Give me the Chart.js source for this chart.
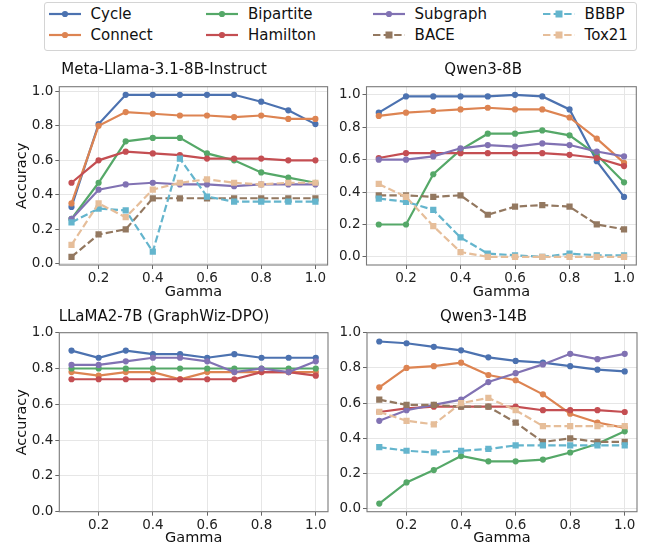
<!DOCTYPE html>
<html>
<head>
<meta charset="utf-8">
<script src="https://cdn.jsdelivr.net/npm/chart.js@4.4.1/dist/chart.umd.min.js"></script>
<style>
  body { margin: 0; background: #fff; width: 645px; height: 548px; overflow: hidden; position: relative; font-family: 'DejaVu Sans', sans-serif; }
  .plot { position: absolute; }
  #legend { position: absolute; left: 44px; top: 2px; width: 591px; height: 47px; border: 1px solid #d4d4d4; border-radius: 3px; box-sizing: content-box; }
  .item { position: absolute; height: 18px; font-size: 15px; line-height: 18px; color: #111; white-space: nowrap; }
  .item svg { position: absolute; left: 0; top: 0; }
  .item span { position: absolute; top: 0; }
</style>
</head>
<body>
<div id="legend"></div>
<div class="plot" style="left:0;top:55px;width:332px;height:248px"><canvas id="c1"></canvas></div>
<div class="plot" style="left:330px;top:55px;width:315px;height:248px"><canvas id="c2"></canvas></div>
<div class="plot" style="left:0;top:300px;width:332px;height:248px"><canvas id="c3"></canvas></div>
<div class="plot" style="left:330px;top:300px;width:315px;height:248px"><canvas id="c4"></canvas></div>
<script>
const gamma = [0.1, 0.2, 0.3, 0.4, 0.5, 0.6, 0.7, 0.8, 0.9, 1.0];
const xTicks = [0.2, 0.4, 0.6, 0.8, 1.0];
const yTicks = [0.0, 0.2, 0.4, 0.6, 0.8, 1.0];

const seriesNames = ['Cycle', 'Connect', 'Bipartite', 'Hamilton', 'Subgraph', 'BACE', 'BBBP', 'Tox21'];
const seriesColors = ['#4C72B0', '#DD8452', '#55A868', '#C44E52', '#8172B3', '#937860', '#64B5CD', '#E6BE9A'];
const dashedSeries = ['BACE', 'BBBP', 'Tox21'];

// Meta-Llama-3.1-8B-Instruct
const llamaCycle     = [0.33, 0.81, 0.98, 0.98, 0.98, 0.98, 0.98, 0.94, 0.89, 0.81];
const llamaConnect   = [0.35, 0.80, 0.88, 0.87, 0.86, 0.86, 0.85, 0.86, 0.84, 0.84];
const llamaBipartite = [0.26, 0.47, 0.71, 0.73, 0.73, 0.64, 0.60, 0.53, 0.50, 0.47];
const llamaHamilton  = [0.47, 0.60, 0.65, 0.64, 0.63, 0.61, 0.61, 0.61, 0.60, 0.60];
const llamaSubgraph  = [0.26, 0.43, 0.46, 0.47, 0.46, 0.46, 0.45, 0.46, 0.46, 0.46];
const llamaBACE      = [0.04, 0.17, 0.20, 0.38, 0.38, 0.38, 0.38, 0.38, 0.38, 0.38];
const llamaBBBP      = [0.24, 0.32, 0.31, 0.07, 0.61, 0.39, 0.36, 0.36, 0.36, 0.36];
const llamaTox21     = [0.11, 0.35, 0.27, 0.43, 0.47, 0.49, 0.47, 0.46, 0.47, 0.47];

// Qwen3-8B
const q8Cycle     = [0.89, 0.99, 0.99, 0.99, 0.99, 1.00, 0.99, 0.91, 0.59, 0.37];
const q8Connect   = [0.87, 0.89, 0.90, 0.91, 0.92, 0.91, 0.91, 0.86, 0.73, 0.58];
const q8Bipartite = [0.20, 0.20, 0.51, 0.66, 0.76, 0.76, 0.78, 0.75, 0.63, 0.46];
const q8Hamilton  = [0.61, 0.64, 0.64, 0.64, 0.64, 0.64, 0.64, 0.63, 0.61, 0.56];
const q8Subgraph  = [0.60, 0.60, 0.62, 0.67, 0.69, 0.68, 0.70, 0.69, 0.65, 0.62];
const q8BACE      = [0.38, 0.38, 0.37, 0.38, 0.26, 0.31, 0.32, 0.31, 0.20, 0.17];
const q8BBBP      = [0.36, 0.34, 0.29, 0.12, 0.02, 0.01, 0.00, 0.02, 0.01, 0.01];
const q8Tox21     = [0.45, 0.37, 0.19, 0.03, 0.00, 0.00, 0.00, 0.00, 0.00, 0.00];

// LLaMA2-7B (GraphWiz-DPO)
const gwCycle     = [0.90, 0.86, 0.90, 0.88, 0.88, 0.86, 0.88, 0.86, 0.86, 0.86];
const gwConnect   = [0.78, 0.76, 0.78, 0.78, 0.74, 0.78, 0.78, 0.78, 0.78, 0.78];
const gwBipartite = [0.80, 0.80, 0.80, 0.80, 0.80, 0.80, 0.80, 0.80, 0.80, 0.80];
const gwHamilton  = [0.74, 0.74, 0.74, 0.74, 0.74, 0.74, 0.74, 0.78, 0.78, 0.76];
const gwSubgraph  = [0.82, 0.82, 0.84, 0.86, 0.86, 0.84, 0.78, 0.80, 0.78, 0.84];

// Qwen3-14B
const q14Cycle     = [0.95, 0.94, 0.92, 0.90, 0.86, 0.84, 0.83, 0.81, 0.79, 0.78];
const q14Connect   = [0.69, 0.80, 0.81, 0.83, 0.76, 0.73, 0.65, 0.54, 0.49, 0.46];
const q14Bipartite = [0.03, 0.15, 0.22, 0.30, 0.27, 0.27, 0.28, 0.32, 0.37, 0.44];
const q14Hamilton  = [0.55, 0.57, 0.58, 0.58, 0.58, 0.58, 0.56, 0.56, 0.56, 0.55];
const q14Subgraph  = [0.50, 0.56, 0.59, 0.62, 0.72, 0.77, 0.82, 0.88, 0.85, 0.88];
const q14BACE      = [0.62, 0.59, 0.59, 0.58, 0.58, 0.49, 0.38, 0.40, 0.38, 0.38];
const q14BBBP      = [0.35, 0.33, 0.32, 0.33, 0.34, 0.36, 0.36, 0.36, 0.36, 0.36];
const q14Tox21     = [0.55, 0.50, 0.48, 0.60, 0.63, 0.56, 0.47, 0.47, 0.47, 0.47];

Chart.defaults.font.family = "'DejaVu Sans', sans-serif";
Chart.defaults.color = '#222';

// matplotlib-style box around the axes
const framePlugin = {
  id: 'frame',
  afterDatasetsDraw(chart) {
    const { ctx, chartArea: a } = chart;
    ctx.save();
    ctx.strokeStyle = '#7a7a7a';
    ctx.lineWidth = 1.1;
    ctx.strokeRect(a.left, a.top, a.right - a.left, a.bottom - a.top);
    ctx.restore();
  }
};

function makeDataset(name, values) {
  const i = seriesNames.indexOf(name);
  const dashed = dashedSeries.includes(name);
  return {
    label: name,
    data: gamma.map((g, k) => ({ x: g, y: values[k] })),
    borderColor: seriesColors[i],
    backgroundColor: seriesColors[i],
    borderWidth: 2.2,
    borderDash: dashed ? [7.4, 3.2] : [],
    pointStyle: dashed ? 'rect' : 'circle',
    pointRadius: dashed ? 4.4 : 3.1,
    pointBorderWidth: 0,
    pointBackgroundColor: seriesColors[i],
    tension: 0,
    order: -i
  };
}

function makeChart(id, title, series, o) {
  const ctx = document.getElementById(id).getContext('2d');
  return new Chart(ctx, {
    type: 'line',
    data: { datasets: series.map(s => makeDataset(s[0], s[1])) },
    options: {
      responsive: true,
      maintainAspectRatio: false,
      animation: false,
      devicePixelRatio: 1,
      layout: { padding: { left: 0, right: o.padRight, top: 0, bottom: 0 } },
      plugins: {
        legend: { display: false },
        tooltip: { enabled: false },
        title: {
          display: true,
          text: title,
          color: '#111',
          font: { size: 15, weight: 'normal' },
          padding: { top: o.titleTop, bottom: o.titleBottom }
        }
      },
      scales: {
        x: {
          type: 'linear',
          min: 0.055,
          max: 1.045,
          afterBuildTicks: s => { s.ticks = xTicks.map(v => ({ value: v })); },
          afterFit: s => { s.height = o.xHeight; },
          ticks: { callback: v => v.toFixed(1), font: { size: 13.5 }, padding: 1.5, maxRotation: 0, autoSkip: false, color: '#222' },
          grid: { color: '#e6e6e6', lineWidth: 1, tickColor: '#666', tickLength: 4 },
          border: { display: false },
          title: { display: true, text: 'Gamma', color: '#111', font: { size: 14.5 }, padding: { top: 0, bottom: o.xTitleBottom } }
        },
        y: {
          min: o.ymin,
          max: o.ymax,
          afterBuildTicks: s => { s.ticks = yTicks.map(v => ({ value: v })); },
          afterFit: s => { s.width = o.yWidth; },
          ticks: { callback: v => v.toFixed(1), font: { size: 13.5 }, padding: 2, color: '#222' },
          grid: { color: '#e6e6e6', lineWidth: 1, tickColor: '#666', tickLength: 4 },
          border: { display: false },
          title: { display: o.yTitle, text: 'Accuracy', color: '#111', font: { size: 14.5 }, padding: { top: 13.5, bottom: 0 } }
        }
      }
    },
    plugins: [framePlugin]
  });
}

makeChart('c1', 'Meta-Llama-3.1-8B-Instruct', [
  ['Cycle', llamaCycle], ['Connect', llamaConnect], ['Bipartite', llamaBipartite],
  ['Hamilton', llamaHamilton], ['Subgraph', llamaSubgraph], ['BACE', llamaBACE],
  ['BBBP', llamaBBBP], ['Tox21', llamaTox21]
], { ymin: -0.007, ymax: 1.027, yTitle: true, yWidth: 59.3, padRight: 4, titleTop: 6, titleBottom: 7.7, xHeight: 38, xTitleBottom: 2.3 });

makeChart('c2', 'Qwen3-8B', [
  ['Cycle', q8Cycle], ['Connect', q8Connect], ['Bipartite', q8Bipartite],
  ['Hamilton', q8Hamilton], ['Subgraph', q8Subgraph], ['BACE', q8BACE],
  ['BBBP', q8BBBP], ['Tox21', q8Tox21]
], { ymin: -0.05, ymax: 1.05, yTitle: false, yWidth: 36.5, padRight: 8.7, titleTop: 6, titleBottom: 7.7, xHeight: 38, xTitleBottom: 2.3 });

makeChart('c3', 'LLaMA2-7B (GraphWiz-DPO)', [
  ['Cycle', gwCycle], ['Connect', gwConnect], ['Bipartite', gwBipartite],
  ['Hamilton', gwHamilton], ['Subgraph', gwSubgraph]
], { ymin: 0, ymax: 1.0, yTitle: true, yWidth: 59.3, padRight: 4, titleTop: 8.3, titleBottom: 6.4, xHeight: 36.3, xTitleBottom: 1.3 });

makeChart('c4', 'Qwen3-14B', [
  ['Cycle', q14Cycle], ['Connect', q14Connect], ['Bipartite', q14Bipartite],
  ['Hamilton', q14Hamilton], ['Subgraph', q14Subgraph], ['BACE', q14BACE],
  ['BBBP', q14BBBP], ['Tox21', q14Tox21]
], { ymin: -0.016, ymax: 1.0, yTitle: false, yWidth: 37, padRight: 8, titleTop: 8.3, titleBottom: 6.4, xHeight: 36.3, xTitleBottom: 1.3 });

// shared legend, 4 columns x 2 rows (column-major like matplotlib)
const legend = document.getElementById('legend');
const colX = [48.6, 206, 372.6, 542.6];
const rowY = [13.7, 35.3];
seriesNames.forEach((name, i) => {
  const col = Math.floor(i / 2), row = i % 2;
  const color = seriesColors[i];
  const dashed = dashedSeries.includes(name);
  const item = document.createElement('div');
  item.className = 'item';
  item.style.left = (colX[col] - 45) + 'px';
  item.style.top = (rowY[row] - 3 - 9) + 'px';
  const marker = dashed
    ? `<rect x="12.5" y="5.5" width="7" height="7" fill="${color}"/>`
    : `<circle cx="16" cy="9" r="3.1" fill="${color}"/>`;
  item.innerHTML = `
    <svg width="34" height="18"><line x1="0" y1="9" x2="32" y2="9" stroke="${color}" stroke-width="2.2"
      ${dashed ? 'stroke-dasharray="7.4 3.2"' : ''}/>${marker}</svg>
    <span style="left:42px">${name}</span>`;
  legend.appendChild(item);
});
</script>
</body>
</html>
